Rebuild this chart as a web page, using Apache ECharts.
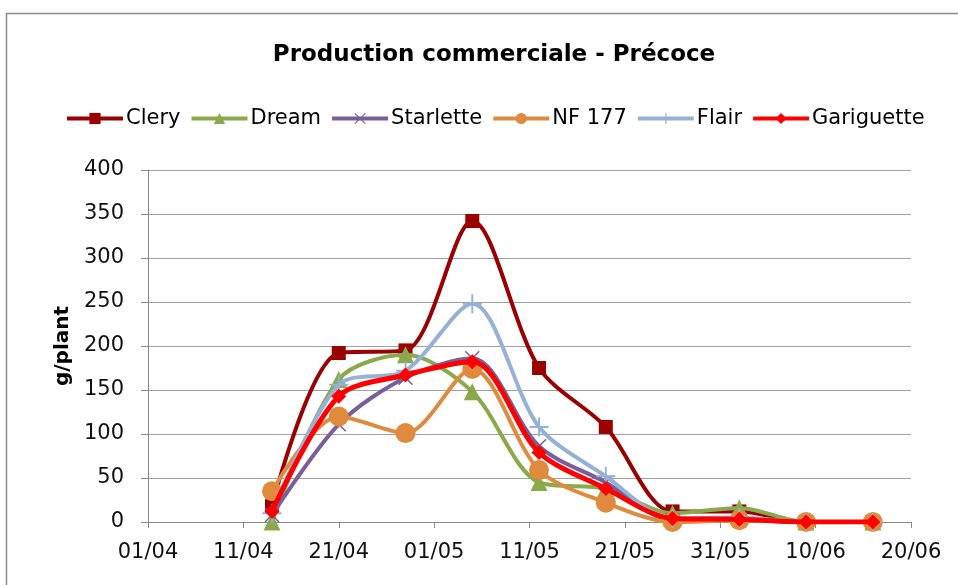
<!DOCTYPE html>
<html>
<head>
<meta charset="utf-8">
<script src="https://cdn.jsdelivr.net/npm/echarts@6/dist/echarts.min.js"></script>
<style>html,body{margin:0;padding:0;background:#fff}#c{width:958px;height:585px}</style>
</head>
<body>
<div id="c"></div>
<script>
var YEAR = 2013;
var xTickLabels = ['01/04','11/04','21/04','01/05','11/05','21/05','31/05','10/06','20/06'];
var yTickLabels = ['0','50','100','150','200','250','300','350','400'];
var dates = ['14/04','21/04','28/04','05/05','12/05','19/05','26/05','02/06','09/06','16/06'];
var seriesNames = ['Clery','Dream','Starlette','NF 177','Flair','Gariguette'];
var clery      = [18, 192, 195, 342, 175, 108, 12, 12, 0, 0];
var dream      = [0, 162, 190, 148, 45, 38, 10, 16, 0, 0];
var starlette  = [8, 111, 164, 186, 86, 45, 2, 3, 0, 0];
var nf177      = [35, 120, 101, 174, 59, 22, 0, 2, 0, 0];
var flair      = [10, 156, 172, 248, 108, 52, 4, 5, 0, 0];
var gariguette = [12, 143, 167, 182, 79, 38, 4, 3, 0, 0];

function dayOffset(s) {
  var p = s.split('/');
  return (Date.UTC(YEAR, +p[1] - 1, +p[0]) - Date.UTC(YEAR, 3, 1)) / 86400000;
}
function pairs(vals) {
  return vals.map(function (v, i) { return [dayOffset(dates[i]), v]; });
}

var plusPath = 'path://M-1,-10L1,-10L1,-1L10,-1L10,1L1,1L1,10L-1,10L-1,1L-10,1L-10,-1L-1,-1Z';
var xPath = 'path://M-10,-8.6L-8.6,-10L0,-1.4L8.6,-10L10,-8.6L1.4,0L10,8.6L8.6,10L0,1.4L-8.6,10L-10,8.6L-1.4,0Z';

var FONT = 'DejaVu Sans, Liberation Sans, sans-serif';

var styles = [
  {color: '#990000', symbol: 'rect', size: 14, width: 4},
  {color: '#89A94A', symbol: 'triangle', size: 17, width: 4},
  {color: '#7A5E9C', symbol: xPath, size: 15, width: 4},
  {color: '#E08A3E', symbol: 'circle', size: 20, width: 4},
  {color: '#95B1D6', symbol: plusPath, size: 19, width: 4},
  {color: '#FF0000', symbol: 'diamond', size: 15, width: 5}
];
var allVals = [clery, dream, starlette, nf177, flair, gariguette];

var series = allVals.map(function (vals, i) {
  var s = styles[i];
  return {
    name: seriesNames[i],
    type: 'line',
    data: pairs(vals),
    smooth: 0.3,
    symbol: s.symbol,
    symbolSize: s.size,
    showAllSymbol: true,
    lineStyle: {color: s.color, width: s.width},
    itemStyle: {color: s.color},
    z: 2 + i
  };
});

var chart = echarts.init(document.getElementById('c'), null, {renderer: 'canvas'});
chart.setOption({
  animation: false,
  backgroundColor: '#fff',
  title: {
    text: 'Production commerciale - Précoce',
    left: 489,
    top: 39,
    textAlign: 'center',
    textStyle: {fontFamily: FONT, fontWeight: 'bold', fontSize: 23, color: '#000'}
  },
  graphic: [{
    type: 'rect', left: 4, top: 11, z: -1,
    shape: {width: 1000, height: 1000},
    style: {fill: 'none', stroke: '#8a8a8a', lineWidth: 1.5}
  }],
  legend: {
    data: seriesNames,
    top: 103,
    left: 60,
    itemWidth: 56,
    itemHeight: 14,
    itemGap: 9,
    lineStyle: {width: 4},
    textStyle: {fontFamily: FONT, fontSize: 21, color: '#000', padding: [0, 0, 0, -2]}
  },
  grid: {left: 148, right: 47, top: 170, bottom: 63, containLabel: false},
  xAxis: {
    type: 'value',
    min: 0, max: 80, interval: 10,
    axisLine: {show: true, lineStyle: {color: '#8a8a8a', width: 1}},
    axisTick: {show: true, length: 6, lineStyle: {color: '#8a8a8a'}},
    splitLine: {show: false},
    axisLabel: {
      margin: 20,
      fontFamily: FONT, fontSize: 21, color: '#111',
      formatter: function (v) { return xTickLabels[Math.round(v / 10)]; }
    }
  },
  yAxis: {
    type: 'value',
    min: 0, max: 400, interval: 50,
    name: 'g/plant',
    nameLocation: 'middle',
    nameRotate: 90,
    nameGap: 70,
    nameTextStyle: {fontFamily: FONT, fontWeight: 'bold', fontSize: 20, color: '#000'},
    axisLine: {show: true, lineStyle: {color: '#8a8a8a', width: 1}},
    axisTick: {show: true, length: 7, lineStyle: {color: '#8a8a8a'}},
    splitLine: {show: true, lineStyle: {color: '#a0a0a0', width: 1.2}},
    axisLabel: {
      margin: 24,
      fontFamily: FONT, fontSize: 21, color: '#111',
      formatter: function (v) { return yTickLabels[Math.round(v / 50)]; }
    }
  },
  series: series
});
</script>
</body>
</html>
